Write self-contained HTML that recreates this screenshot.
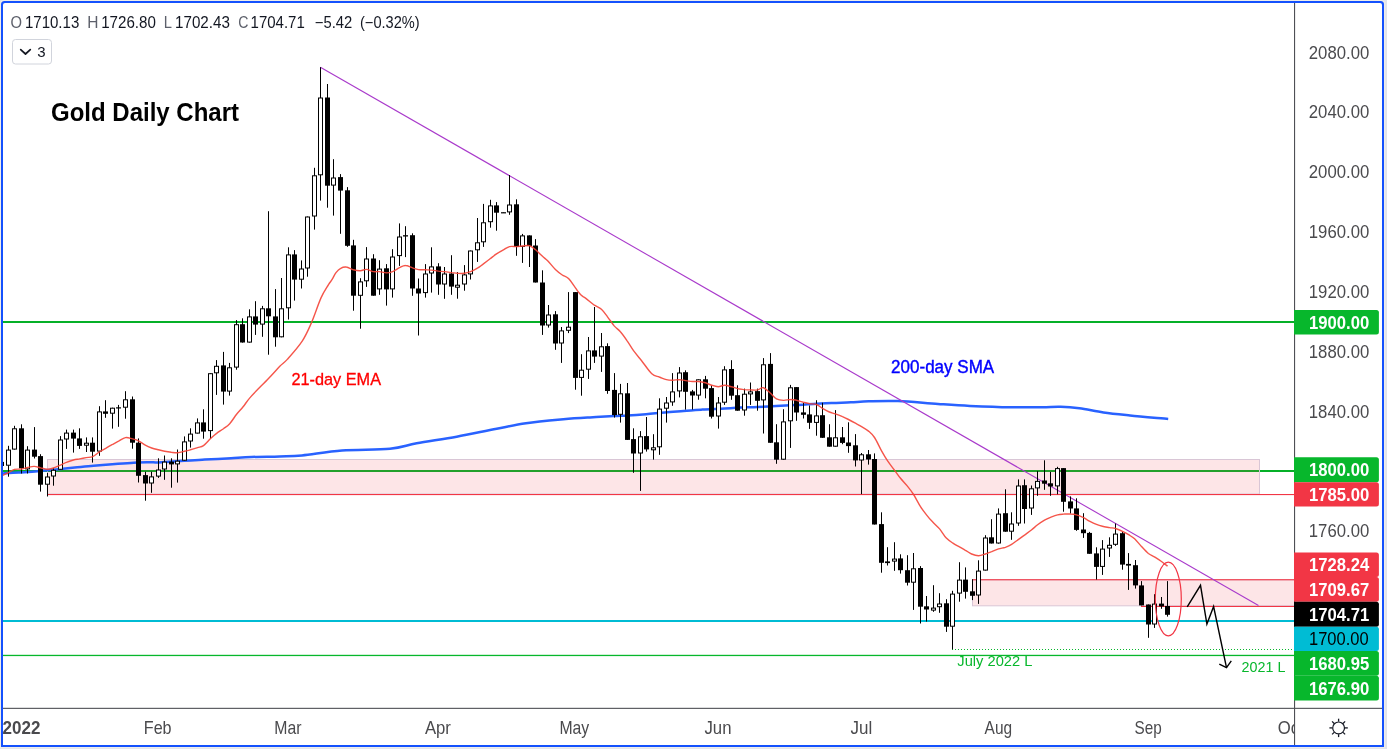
<!DOCTYPE html>
<html lang="en"><head><meta charset="utf-8"><title>Gold Daily Chart</title>
<style>
html,body{margin:0;padding:0;background:#e0e3eb;}
body{width:1387px;height:749px;overflow:hidden;font-family:"Liberation Sans", Arial, sans-serif;}
svg{display:block;font-family:"Liberation Sans", Arial, sans-serif;}
text{white-space:pre;}
</style></head><body>
<svg width="1387" height="749" viewBox="0 0 1387 749">
<rect x="0" y="0" width="1387" height="749" fill="#e0e3eb"/>
<path d="M0 748.2 V4 Q0 0 4 0 H1381.2 Q1385.2 0 1385.2 4 V748.2 Z" fill="#efede9"/>
<path d="M1 747 V4.5 Q1 1 4.5 1 H1380.5 Q1384 1 1384 4.5 V747 Z" fill="#1451fd"/>
<path d="M3 745 V5 Q3 3 5 3 H1380 Q1382 3 1382 5 V745 Z" fill="#ffffff"/>
<defs><clipPath id="pane"><rect x="3" y="3" width="1291" height="705"/></clipPath><clipPath id="taxis"><rect x="3" y="709" width="1291" height="36"/></clipPath></defs>
<g clip-path="url(#pane)">
<rect x="0" y="321" width="1295" height="2" fill="#05b028"/>
<rect x="0" y="470" width="1295" height="2" fill="#05b028"/>
<rect x="0" y="620" width="1295" height="2" fill="#00bcd4"/>
<rect x="0" y="654.8" width="1295" height="1.3" fill="#07b72c"/>
<line x1="952" y1="649.5" x2="1295" y2="649.5" stroke="#07b72c" stroke-width="1.1" stroke-dasharray="1 2"/>
<rect x="47.5" y="459.5" width="1212" height="34.5" fill="rgba(242,54,69,0.13)" stroke="#d9c6d6" stroke-width="1"/>
<rect x="47.5" y="494" width="1248" height="1.1" fill="#f23645"/>
<rect x="972.5" y="579.8" width="323" height="26" fill="rgba(242,54,69,0.13)" stroke="#d9c6d6" stroke-width="1"/>
<rect x="972.5" y="579.2" width="323" height="1.1" fill="#f23645"/>
<rect x="1141" y="605.9" width="155" height="1.1" fill="#f23645"/>
<path fill="none" stroke="#2962ff" stroke-width="2.5" stroke-linejoin="round" d="M-2.0 475.5 C-1.2 475.2 -0.8 474.0 2.6 473.5 C6.1 473.0 12.9 472.9 18.7 472.6 C24.5 472.2 31.2 471.8 37.4 471.3 C43.6 470.7 49.9 470.0 56.1 469.4 C62.3 468.8 68.6 468.1 74.8 467.5 C81.0 466.9 87.3 466.2 93.5 465.7 C99.7 465.1 106.0 464.6 112.2 464.2 C118.4 463.7 124.7 463.2 130.9 462.9 C137.1 462.5 145.1 462.4 149.6 462.3 C154.1 462.2 152.3 462.6 158.1 462.4 C163.8 462.1 176.4 461.2 184.2 460.7 C192.0 460.2 197.0 460.0 204.8 459.6 C212.6 459.2 223.2 458.7 231.0 458.3 C238.8 457.8 243.5 457.3 251.6 457.0 C259.7 456.6 271.2 456.7 279.6 456.4 C288.0 456.1 291.6 456.4 302.0 455.4 C312.4 454.4 327.3 451.6 342.0 450.5 C356.7 449.4 377.6 449.9 390.0 448.7 C402.4 447.5 405.6 445.3 416.7 443.3 C427.8 441.3 443.4 439.1 456.7 436.7 C470.0 434.3 485.1 430.9 496.7 428.7 C508.2 426.5 514.9 424.9 526.0 423.3 C537.1 421.7 552.7 420.3 563.4 419.3 C574.1 418.3 581.6 417.9 590.0 417.4 C598.4 416.9 607.8 416.4 614.0 416.1 C620.2 415.8 622.0 415.8 627.4 415.5 C632.8 415.2 639.9 414.7 646.1 414.2 C652.3 413.7 658.6 412.9 664.8 412.4 C671.0 411.8 677.3 411.4 683.5 410.9 C689.7 410.4 696.0 410.0 702.2 409.6 C708.4 409.2 714.7 409.0 720.9 408.7 C727.1 408.4 733.5 407.9 739.6 407.6 C745.7 407.3 751.3 407.3 757.4 407.0 C763.5 406.7 769.9 406.3 776.1 406.0 C782.3 405.7 788.6 405.4 794.8 405.1 C801.0 404.8 807.3 404.4 813.5 404.0 C819.7 403.6 826.0 403.3 832.2 403.0 C838.4 402.7 844.8 402.6 850.9 402.3 C857.0 402.0 860.9 401.5 868.7 401.3 C876.6 401.1 886.5 400.7 898.0 401.1 C909.5 401.6 926.0 403.2 938.0 404.0 C950.0 404.8 958.0 405.4 970.0 405.9 C982.0 406.4 998.0 407.0 1010.0 407.2 C1022.0 407.4 1033.5 407.3 1042.0 407.2 C1050.5 407.1 1054.5 406.6 1060.7 406.8 C1066.9 407.0 1072.3 407.4 1079.4 408.3 C1086.5 409.2 1095.0 411.3 1103.4 412.5 C1111.8 413.7 1119.2 414.4 1130.0 415.5 C1140.8 416.6 1161.8 418.3 1168.2 418.9"/>
<line x1="320.4" y1="67.2" x2="1258.5" y2="605.5" stroke="#a93acb" stroke-width="1.1"/>
<rect x="1" y="460.4" width="1" height="6.5" fill="#000"/>
<rect x="-1" y="461.9" width="5" height="4.1" fill="#000"/>
<rect x="8" y="445.8" width="1" height="30.9" fill="#000"/>
<rect x="6.5" y="450.1" width="4" height="15.1" fill="#fff" stroke="#000" stroke-width="1"/>
<rect x="14" y="425.8" width="1" height="23.8" fill="#000"/>
<rect x="12.5" y="428.8" width="4" height="20.3" fill="#fff" stroke="#000" stroke-width="1"/>
<rect x="21" y="424.3" width="1" height="49.2" fill="#000"/>
<rect x="19" y="428.3" width="5" height="40.0" fill="#000"/>
<rect x="27" y="446.2" width="1" height="27.3" fill="#000"/>
<rect x="25.5" y="450.1" width="4" height="18.8" fill="#fff" stroke="#000" stroke-width="1"/>
<rect x="34" y="427.1" width="1" height="31.4" fill="#000"/>
<rect x="32" y="449.6" width="5" height="7.1" fill="#000"/>
<rect x="40" y="454.2" width="1" height="37.4" fill="#000"/>
<rect x="38" y="456.1" width="5" height="28.6" fill="#000"/>
<rect x="47" y="472.9" width="1" height="23.6" fill="#000"/>
<rect x="45.5" y="477.0" width="4" height="7.2" fill="#fff" stroke="#000" stroke-width="1"/>
<rect x="53" y="467.9" width="1" height="17.8" fill="#000"/>
<rect x="51.5" y="470.3" width="4" height="5.7" fill="#fff" stroke="#000" stroke-width="1"/>
<rect x="60" y="436.1" width="1" height="33.7" fill="#000"/>
<rect x="58.5" y="440.0" width="4" height="29.3" fill="#fff" stroke="#000" stroke-width="1"/>
<rect x="66" y="429.6" width="1" height="19.3" fill="#000"/>
<rect x="64.5" y="433.1" width="4" height="5.9" fill="#fff" stroke="#000" stroke-width="1"/>
<rect x="73" y="429.6" width="1" height="23.0" fill="#000"/>
<rect x="71" y="432.6" width="5" height="6.0" fill="#000"/>
<rect x="79" y="428.3" width="1" height="20.6" fill="#000"/>
<rect x="77" y="438.4" width="5" height="7.5" fill="#000"/>
<rect x="86" y="437.4" width="1" height="14.6" fill="#000"/>
<rect x="84.5" y="443.2" width="4" height="2.0" fill="#fff" stroke="#000" stroke-width="1"/>
<rect x="92" y="437.4" width="1" height="25.2" fill="#000"/>
<rect x="90" y="442.7" width="5" height="9.0" fill="#000"/>
<rect x="99" y="406.2" width="1" height="49.6" fill="#000"/>
<rect x="97.5" y="411.9" width="4" height="39.2" fill="#fff" stroke="#000" stroke-width="1"/>
<rect x="105" y="400.2" width="1" height="17.6" fill="#000"/>
<rect x="103" y="411.4" width="5" height="2.4" fill="#000"/>
<rect x="112" y="407.7" width="1" height="20.9" fill="#000"/>
<rect x="110.5" y="408.2" width="4" height="5.0" fill="#fff" stroke="#000" stroke-width="1"/>
<rect x="118" y="404.9" width="1" height="21.9" fill="#000"/>
<rect x="116" y="407.3" width="5" height="1.2" fill="#000"/>
<rect x="125" y="391.2" width="1" height="27.5" fill="#000"/>
<rect x="123.5" y="399.8" width="4" height="7.4" fill="#fff" stroke="#000" stroke-width="1"/>
<rect x="132" y="396.5" width="1" height="52.2" fill="#000"/>
<rect x="130" y="399.3" width="5" height="43.4" fill="#000"/>
<rect x="138" y="438.4" width="1" height="44.1" fill="#000"/>
<rect x="136" y="442.7" width="5" height="33.1" fill="#000"/>
<rect x="145" y="471.7" width="1" height="29.0" fill="#000"/>
<rect x="143" y="475.1" width="5" height="8.4" fill="#000"/>
<rect x="151" y="471.7" width="1" height="21.1" fill="#000"/>
<rect x="149.5" y="476.9" width="4" height="6.1" fill="#fff" stroke="#000" stroke-width="1"/>
<rect x="158" y="458.3" width="1" height="19.6" fill="#000"/>
<rect x="156.5" y="470.0" width="4" height="6.1" fill="#fff" stroke="#000" stroke-width="1"/>
<rect x="164" y="455.5" width="1" height="24.3" fill="#000"/>
<rect x="162.5" y="462.1" width="4" height="6.9" fill="#fff" stroke="#000" stroke-width="1"/>
<rect x="171" y="458.3" width="1" height="29.4" fill="#000"/>
<rect x="169" y="461.6" width="5" height="2.8" fill="#000"/>
<rect x="177" y="449.5" width="1" height="33.1" fill="#000"/>
<rect x="175.5" y="461.2" width="4" height="2.7" fill="#fff" stroke="#000" stroke-width="1"/>
<rect x="184" y="436.4" width="1" height="24.3" fill="#000"/>
<rect x="182.5" y="441.9" width="4" height="18.3" fill="#fff" stroke="#000" stroke-width="1"/>
<rect x="190" y="428.3" width="1" height="19.3" fill="#000"/>
<rect x="188.5" y="434.1" width="4" height="6.9" fill="#fff" stroke="#000" stroke-width="1"/>
<rect x="197" y="418.4" width="1" height="15.1" fill="#000"/>
<rect x="195.5" y="422.9" width="4" height="10.2" fill="#fff" stroke="#000" stroke-width="1"/>
<rect x="203" y="409.3" width="1" height="29.4" fill="#000"/>
<rect x="201" y="422.4" width="5" height="9.2" fill="#000"/>
<rect x="210" y="373.2" width="1" height="65.8" fill="#000"/>
<rect x="208.5" y="373.7" width="4" height="56.9" fill="#fff" stroke="#000" stroke-width="1"/>
<rect x="216" y="360.1" width="1" height="34.8" fill="#000"/>
<rect x="214.5" y="366.3" width="4" height="6.5" fill="#fff" stroke="#000" stroke-width="1"/>
<rect x="223" y="351.9" width="1" height="52.7" fill="#000"/>
<rect x="221" y="365.4" width="5" height="26.2" fill="#000"/>
<rect x="229" y="362.9" width="1" height="32.7" fill="#000"/>
<rect x="227.5" y="367.8" width="4" height="23.3" fill="#fff" stroke="#000" stroke-width="1"/>
<rect x="236" y="320.1" width="1" height="49.6" fill="#000"/>
<rect x="234.5" y="324.7" width="4" height="42.4" fill="#fff" stroke="#000" stroke-width="1"/>
<rect x="242" y="318.3" width="1" height="24.3" fill="#000"/>
<rect x="240" y="324.2" width="5" height="18.3" fill="#000"/>
<rect x="249" y="309.3" width="1" height="33.3" fill="#000"/>
<rect x="247.5" y="316.9" width="4" height="25.2" fill="#fff" stroke="#000" stroke-width="1"/>
<rect x="255" y="301.2" width="1" height="33.7" fill="#000"/>
<rect x="253" y="316.4" width="5" height="8.2" fill="#000"/>
<rect x="262" y="305.9" width="1" height="30.9" fill="#000"/>
<rect x="260.5" y="308.8" width="4" height="15.3" fill="#fff" stroke="#000" stroke-width="1"/>
<rect x="268" y="211.2" width="1" height="143.5" fill="#000"/>
<rect x="266" y="308.3" width="5" height="8.0" fill="#000"/>
<rect x="275" y="289.1" width="1" height="57.6" fill="#000"/>
<rect x="273" y="316.4" width="5" height="20.9" fill="#000"/>
<rect x="281" y="278.0" width="1" height="59.3" fill="#000"/>
<rect x="279.5" y="308.8" width="4" height="28.0" fill="#fff" stroke="#000" stroke-width="1"/>
<rect x="288" y="247.3" width="1" height="72.2" fill="#000"/>
<rect x="286.5" y="254.9" width="4" height="52.9" fill="#fff" stroke="#000" stroke-width="1"/>
<rect x="294" y="250.1" width="1" height="50.5" fill="#000"/>
<rect x="292" y="254.4" width="5" height="25.2" fill="#000"/>
<rect x="301" y="260.4" width="1" height="28.1" fill="#000"/>
<rect x="299.5" y="269.0" width="4" height="10.2" fill="#fff" stroke="#000" stroke-width="1"/>
<rect x="307" y="216.5" width="1" height="60.2" fill="#000"/>
<rect x="305.5" y="217.0" width="4" height="51.0" fill="#fff" stroke="#000" stroke-width="1"/>
<rect x="314" y="167.8" width="1" height="61.8" fill="#000"/>
<rect x="312.5" y="175.8" width="4" height="40.2" fill="#fff" stroke="#000" stroke-width="1"/>
<rect x="320" y="67.2" width="1" height="133.4" fill="#000"/>
<rect x="318.5" y="98.0" width="4" height="76.8" fill="#fff" stroke="#000" stroke-width="1"/>
<rect x="327" y="84.0" width="1" height="123.7" fill="#000"/>
<rect x="325" y="97.5" width="5" height="88.2" fill="#000"/>
<rect x="333" y="159.2" width="1" height="56.4" fill="#000"/>
<rect x="331.5" y="178.0" width="4" height="7.1" fill="#fff" stroke="#000" stroke-width="1"/>
<rect x="340" y="174.1" width="1" height="59.7" fill="#000"/>
<rect x="338" y="177.1" width="5" height="13.5" fill="#000"/>
<rect x="347" y="187.1" width="1" height="59.7" fill="#000"/>
<rect x="345" y="190.3" width="5" height="55.5" fill="#000"/>
<rect x="353" y="239.8" width="1" height="70.9" fill="#000"/>
<rect x="351" y="245.4" width="5" height="50.3" fill="#000"/>
<rect x="360" y="278.2" width="1" height="50.5" fill="#000"/>
<rect x="358.5" y="281.9" width="4" height="13.4" fill="#fff" stroke="#000" stroke-width="1"/>
<rect x="366" y="247.1" width="1" height="39.8" fill="#000"/>
<rect x="364.5" y="259.0" width="4" height="21.8" fill="#fff" stroke="#000" stroke-width="1"/>
<rect x="373" y="254.2" width="1" height="41.5" fill="#000"/>
<rect x="371" y="258.5" width="5" height="37.2" fill="#000"/>
<rect x="379" y="260.2" width="1" height="34.6" fill="#000"/>
<rect x="377.5" y="269.1" width="4" height="19.8" fill="#fff" stroke="#000" stroke-width="1"/>
<rect x="386" y="264.1" width="1" height="41.5" fill="#000"/>
<rect x="384" y="268.3" width="5" height="21.1" fill="#000"/>
<rect x="392" y="249.2" width="1" height="48.4" fill="#000"/>
<rect x="390.5" y="257.0" width="4" height="31.9" fill="#fff" stroke="#000" stroke-width="1"/>
<rect x="399" y="223.4" width="1" height="42.5" fill="#000"/>
<rect x="397.5" y="237.0" width="4" height="18.6" fill="#fff" stroke="#000" stroke-width="1"/>
<rect x="405" y="226.2" width="1" height="30.9" fill="#000"/>
<rect x="403" y="235.2" width="5" height="1.3" fill="#000"/>
<rect x="412" y="233.3" width="1" height="62.5" fill="#000"/>
<rect x="410" y="235.2" width="5" height="53.3" fill="#000"/>
<rect x="418" y="278.5" width="1" height="57.0" fill="#000"/>
<rect x="416" y="288.5" width="5" height="5.0" fill="#000"/>
<rect x="425" y="264.1" width="1" height="33.5" fill="#000"/>
<rect x="423.5" y="274.0" width="4" height="18.6" fill="#fff" stroke="#000" stroke-width="1"/>
<rect x="431" y="247.3" width="1" height="45.3" fill="#000"/>
<rect x="429.5" y="266.9" width="4" height="6.1" fill="#fff" stroke="#000" stroke-width="1"/>
<rect x="438" y="263.2" width="1" height="31.6" fill="#000"/>
<rect x="436" y="266.4" width="5" height="18.1" fill="#000"/>
<rect x="444" y="267.0" width="1" height="31.8" fill="#000"/>
<rect x="442.5" y="274.0" width="4" height="10.0" fill="#fff" stroke="#000" stroke-width="1"/>
<rect x="451" y="255.2" width="1" height="39.6" fill="#000"/>
<rect x="449" y="273.5" width="5" height="13.1" fill="#000"/>
<rect x="457" y="272.0" width="1" height="26.7" fill="#000"/>
<rect x="455.5" y="285.2" width="4" height="2.0" fill="#fff" stroke="#000" stroke-width="1"/>
<rect x="464" y="265.1" width="1" height="25.6" fill="#000"/>
<rect x="462.5" y="274.9" width="4" height="9.1" fill="#fff" stroke="#000" stroke-width="1"/>
<rect x="470" y="250.5" width="1" height="29.0" fill="#000"/>
<rect x="468.5" y="251.0" width="4" height="22.9" fill="#fff" stroke="#000" stroke-width="1"/>
<rect x="477" y="218.0" width="1" height="43.9" fill="#000"/>
<rect x="475.5" y="242.8" width="4" height="7.0" fill="#fff" stroke="#000" stroke-width="1"/>
<rect x="483" y="203.9" width="1" height="43.0" fill="#000"/>
<rect x="481.5" y="222.8" width="4" height="19.0" fill="#fff" stroke="#000" stroke-width="1"/>
<rect x="490" y="199.8" width="1" height="27.9" fill="#000"/>
<rect x="488.5" y="205.9" width="4" height="15.8" fill="#fff" stroke="#000" stroke-width="1"/>
<rect x="496" y="202.1" width="1" height="28.6" fill="#000"/>
<rect x="494" y="205.4" width="5" height="7.3" fill="#000"/>
<rect x="503" y="212.2" width="1" height="0.4" fill="#000"/>
<rect x="501" y="212.2" width="5" height="1.2" fill="#000"/>
<rect x="509" y="175.0" width="1" height="39.8" fill="#000"/>
<rect x="507.5" y="205.0" width="4" height="6.9" fill="#fff" stroke="#000" stroke-width="1"/>
<rect x="516" y="199.3" width="1" height="56.5" fill="#000"/>
<rect x="514" y="204.3" width="5" height="42.6" fill="#000"/>
<rect x="522" y="233.9" width="1" height="29.0" fill="#000"/>
<rect x="520.5" y="235.9" width="4" height="10.6" fill="#fff" stroke="#000" stroke-width="1"/>
<rect x="529" y="235.4" width="1" height="31.6" fill="#000"/>
<rect x="527" y="235.4" width="5" height="10.7" fill="#000"/>
<rect x="535" y="239.1" width="1" height="43.4" fill="#000"/>
<rect x="533" y="245.5" width="5" height="37.0" fill="#000"/>
<rect x="542" y="270.3" width="1" height="64.6" fill="#000"/>
<rect x="540" y="282.5" width="5" height="43.0" fill="#000"/>
<rect x="548" y="305.0" width="1" height="22.6" fill="#000"/>
<rect x="546.5" y="315.0" width="4" height="10.0" fill="#fff" stroke="#000" stroke-width="1"/>
<rect x="555" y="311.1" width="1" height="38.7" fill="#000"/>
<rect x="553" y="314.3" width="5" height="29.2" fill="#000"/>
<rect x="561" y="327.0" width="1" height="35.9" fill="#000"/>
<rect x="559.5" y="330.9" width="4" height="12.1" fill="#fff" stroke="#000" stroke-width="1"/>
<rect x="568" y="292.1" width="1" height="41.0" fill="#000"/>
<rect x="566.5" y="327.2" width="4" height="3.1" fill="#fff" stroke="#000" stroke-width="1"/>
<rect x="575" y="292.1" width="1" height="97.6" fill="#000"/>
<rect x="573" y="292.1" width="5" height="85.8" fill="#000"/>
<rect x="581" y="354.2" width="1" height="41.5" fill="#000"/>
<rect x="579.5" y="370.2" width="4" height="7.2" fill="#fff" stroke="#000" stroke-width="1"/>
<rect x="588" y="337.0" width="1" height="41.9" fill="#000"/>
<rect x="586.5" y="350.9" width="4" height="18.3" fill="#fff" stroke="#000" stroke-width="1"/>
<rect x="594" y="307.0" width="1" height="55.9" fill="#000"/>
<rect x="592" y="350.4" width="5" height="6.2" fill="#000"/>
<rect x="601" y="333.0" width="1" height="38.9" fill="#000"/>
<rect x="599.5" y="346.8" width="4" height="9.3" fill="#fff" stroke="#000" stroke-width="1"/>
<rect x="607" y="343.3" width="1" height="50.5" fill="#000"/>
<rect x="605" y="346.1" width="5" height="44.9" fill="#000"/>
<rect x="614" y="373.1" width="1" height="44.5" fill="#000"/>
<rect x="612" y="389.9" width="5" height="25.2" fill="#000"/>
<rect x="620" y="383.9" width="1" height="38.7" fill="#000"/>
<rect x="618.5" y="393.8" width="4" height="20.5" fill="#fff" stroke="#000" stroke-width="1"/>
<rect x="627" y="383.0" width="1" height="56.9" fill="#000"/>
<rect x="625" y="393.3" width="5" height="46.6" fill="#000"/>
<rect x="633" y="428.3" width="1" height="44.5" fill="#000"/>
<rect x="631" y="439.1" width="5" height="14.4" fill="#000"/>
<rect x="640" y="431.1" width="1" height="59.8" fill="#000"/>
<rect x="638.5" y="436.8" width="4" height="16.2" fill="#fff" stroke="#000" stroke-width="1"/>
<rect x="646" y="417.0" width="1" height="34.6" fill="#000"/>
<rect x="644" y="436.1" width="5" height="13.3" fill="#000"/>
<rect x="653" y="434.2" width="1" height="25.4" fill="#000"/>
<rect x="651.5" y="447.8" width="4" height="2.0" fill="#fff" stroke="#000" stroke-width="1"/>
<rect x="659" y="398.3" width="1" height="56.5" fill="#000"/>
<rect x="657.5" y="409.1" width="4" height="37.7" fill="#fff" stroke="#000" stroke-width="1"/>
<rect x="666" y="397.0" width="1" height="25.6" fill="#000"/>
<rect x="664.5" y="403.0" width="4" height="5.2" fill="#fff" stroke="#000" stroke-width="1"/>
<rect x="672" y="373.1" width="1" height="32.7" fill="#000"/>
<rect x="670.5" y="391.9" width="4" height="10.0" fill="#fff" stroke="#000" stroke-width="1"/>
<rect x="679" y="367.1" width="1" height="30.3" fill="#000"/>
<rect x="677.5" y="373.0" width="4" height="17.9" fill="#fff" stroke="#000" stroke-width="1"/>
<rect x="685" y="370.3" width="1" height="39.3" fill="#000"/>
<rect x="683" y="372.2" width="5" height="19.6" fill="#000"/>
<rect x="692" y="389.9" width="1" height="19.6" fill="#000"/>
<rect x="690" y="391.4" width="5" height="4.1" fill="#000"/>
<rect x="698" y="379.3" width="1" height="20.4" fill="#000"/>
<rect x="696.5" y="379.8" width="4" height="15.3" fill="#fff" stroke="#000" stroke-width="1"/>
<rect x="705" y="375.9" width="1" height="22.4" fill="#000"/>
<rect x="703" y="379.3" width="5" height="9.4" fill="#000"/>
<rect x="711" y="385.2" width="1" height="33.3" fill="#000"/>
<rect x="709" y="388.1" width="5" height="28.6" fill="#000"/>
<rect x="718" y="397.0" width="1" height="31.6" fill="#000"/>
<rect x="716.5" y="403.0" width="4" height="13.0" fill="#fff" stroke="#000" stroke-width="1"/>
<rect x="724" y="366.2" width="1" height="38.7" fill="#000"/>
<rect x="722.5" y="369.9" width="4" height="32.3" fill="#fff" stroke="#000" stroke-width="1"/>
<rect x="731" y="360.2" width="1" height="39.6" fill="#000"/>
<rect x="729" y="369.0" width="5" height="26.7" fill="#000"/>
<rect x="737" y="385.3" width="1" height="25.4" fill="#000"/>
<rect x="735" y="395.2" width="5" height="15.5" fill="#000"/>
<rect x="744" y="388.6" width="1" height="27.1" fill="#000"/>
<rect x="742.5" y="394.2" width="4" height="15.8" fill="#fff" stroke="#000" stroke-width="1"/>
<rect x="750" y="382.5" width="1" height="22.4" fill="#000"/>
<rect x="748.5" y="391.9" width="4" height="2.0" fill="#fff" stroke="#000" stroke-width="1"/>
<rect x="757" y="388.6" width="1" height="22.1" fill="#000"/>
<rect x="755" y="391.1" width="5" height="9.7" fill="#000"/>
<rect x="763" y="358.1" width="1" height="75.4" fill="#000"/>
<rect x="761.5" y="364.8" width="4" height="35.1" fill="#fff" stroke="#000" stroke-width="1"/>
<rect x="770" y="353.1" width="1" height="89.8" fill="#000"/>
<rect x="768" y="363.9" width="5" height="78.9" fill="#000"/>
<rect x="776" y="424.2" width="1" height="39.6" fill="#000"/>
<rect x="774" y="442.3" width="5" height="17.4" fill="#000"/>
<rect x="783" y="409.2" width="1" height="50.5" fill="#000"/>
<rect x="781.5" y="421.9" width="4" height="37.3" fill="#fff" stroke="#000" stroke-width="1"/>
<rect x="790" y="384.9" width="1" height="63.0" fill="#000"/>
<rect x="788.5" y="387.8" width="4" height="33.0" fill="#fff" stroke="#000" stroke-width="1"/>
<rect x="796" y="387.1" width="1" height="33.7" fill="#000"/>
<rect x="794" y="387.1" width="5" height="25.4" fill="#000"/>
<rect x="803" y="403.0" width="1" height="15.5" fill="#000"/>
<rect x="801" y="412.4" width="5" height="2.4" fill="#000"/>
<rect x="809" y="405.5" width="1" height="23.4" fill="#000"/>
<rect x="807" y="414.4" width="5" height="8.4" fill="#000"/>
<rect x="816" y="400.2" width="1" height="35.5" fill="#000"/>
<rect x="814.5" y="415.9" width="4" height="6.5" fill="#fff" stroke="#000" stroke-width="1"/>
<rect x="822" y="402.7" width="1" height="35.2" fill="#000"/>
<rect x="820" y="415.2" width="5" height="22.6" fill="#000"/>
<rect x="829" y="424.2" width="1" height="22.4" fill="#000"/>
<rect x="827" y="437.3" width="5" height="9.4" fill="#000"/>
<rect x="835" y="410.1" width="1" height="36.5" fill="#000"/>
<rect x="833.5" y="437.8" width="4" height="8.4" fill="#fff" stroke="#000" stroke-width="1"/>
<rect x="842" y="427.0" width="1" height="17.2" fill="#000"/>
<rect x="840" y="437.3" width="5" height="5.6" fill="#000"/>
<rect x="848" y="422.3" width="1" height="30.5" fill="#000"/>
<rect x="846" y="442.5" width="5" height="3.6" fill="#000"/>
<rect x="855" y="434.1" width="1" height="32.4" fill="#000"/>
<rect x="853" y="445.3" width="5" height="15.1" fill="#000"/>
<rect x="861" y="453.0" width="1" height="41.1" fill="#000"/>
<rect x="859.5" y="454.8" width="4" height="5.2" fill="#fff" stroke="#000" stroke-width="1"/>
<rect x="868" y="450.0" width="1" height="14.6" fill="#000"/>
<rect x="866" y="454.3" width="5" height="5.2" fill="#000"/>
<rect x="874" y="453.4" width="1" height="71.1" fill="#000"/>
<rect x="872" y="459.0" width="5" height="65.5" fill="#000"/>
<rect x="881" y="512.3" width="1" height="60.4" fill="#000"/>
<rect x="879" y="524.1" width="5" height="38.7" fill="#000"/>
<rect x="887" y="547.2" width="1" height="18.3" fill="#000"/>
<rect x="885" y="561.4" width="5" height="1.7" fill="#000"/>
<rect x="894" y="542.2" width="1" height="28.6" fill="#000"/>
<rect x="892.5" y="559.1" width="4" height="2.0" fill="#fff" stroke="#000" stroke-width="1"/>
<rect x="900" y="554.3" width="1" height="19.3" fill="#000"/>
<rect x="898" y="558.4" width="5" height="11.8" fill="#000"/>
<rect x="907" y="555.2" width="1" height="30.3" fill="#000"/>
<rect x="905" y="570.2" width="5" height="12.5" fill="#000"/>
<rect x="913" y="553.0" width="1" height="56.9" fill="#000"/>
<rect x="911.5" y="568.8" width="4" height="13.4" fill="#fff" stroke="#000" stroke-width="1"/>
<rect x="920" y="566.1" width="1" height="57.4" fill="#000"/>
<rect x="918" y="568.0" width="5" height="38.7" fill="#000"/>
<rect x="926" y="596.0" width="1" height="25.6" fill="#000"/>
<rect x="924" y="606.3" width="5" height="3.2" fill="#000"/>
<rect x="933" y="585.2" width="1" height="26.6" fill="#000"/>
<rect x="931.5" y="608.1" width="4" height="2.0" fill="#fff" stroke="#000" stroke-width="1"/>
<rect x="939" y="593.2" width="1" height="19.6" fill="#000"/>
<rect x="937.5" y="604.0" width="4" height="2.7" fill="#fff" stroke="#000" stroke-width="1"/>
<rect x="946" y="599.2" width="1" height="32.7" fill="#000"/>
<rect x="944" y="603.3" width="5" height="23.4" fill="#000"/>
<rect x="952" y="590.8" width="1" height="58.5" fill="#000"/>
<rect x="950.5" y="594.1" width="4" height="32.1" fill="#fff" stroke="#000" stroke-width="1"/>
<rect x="959" y="562.2" width="1" height="39.5" fill="#000"/>
<rect x="957.5" y="580.1" width="4" height="13.0" fill="#fff" stroke="#000" stroke-width="1"/>
<rect x="965" y="567.4" width="1" height="31.2" fill="#000"/>
<rect x="963" y="579.6" width="5" height="12.2" fill="#000"/>
<rect x="972" y="579.2" width="1" height="20.9" fill="#000"/>
<rect x="970" y="591.3" width="5" height="4.5" fill="#000"/>
<rect x="978" y="560.3" width="1" height="43.6" fill="#000"/>
<rect x="976.5" y="571.1" width="4" height="23.9" fill="#fff" stroke="#000" stroke-width="1"/>
<rect x="985" y="535.2" width="1" height="35.3" fill="#000"/>
<rect x="983.5" y="538.0" width="4" height="32.1" fill="#fff" stroke="#000" stroke-width="1"/>
<rect x="991" y="519.2" width="1" height="24.3" fill="#000"/>
<rect x="989" y="537.3" width="5" height="6.2" fill="#000"/>
<rect x="998" y="508.4" width="1" height="35.2" fill="#000"/>
<rect x="996.5" y="514.1" width="4" height="28.9" fill="#fff" stroke="#000" stroke-width="1"/>
<rect x="1005" y="489.3" width="1" height="42.5" fill="#000"/>
<rect x="1003" y="513.2" width="5" height="18.5" fill="#000"/>
<rect x="1011" y="512.3" width="1" height="27.5" fill="#000"/>
<rect x="1009.5" y="524.0" width="4" height="7.2" fill="#fff" stroke="#000" stroke-width="1"/>
<rect x="1018" y="479.4" width="1" height="46.4" fill="#000"/>
<rect x="1016.5" y="486.0" width="4" height="37.0" fill="#fff" stroke="#000" stroke-width="1"/>
<rect x="1024" y="479.4" width="1" height="44.1" fill="#000"/>
<rect x="1022" y="485.2" width="5" height="23.8" fill="#000"/>
<rect x="1031" y="485.5" width="1" height="29.4" fill="#000"/>
<rect x="1029.5" y="488.8" width="4" height="19.2" fill="#fff" stroke="#000" stroke-width="1"/>
<rect x="1037" y="471.1" width="1" height="24.7" fill="#000"/>
<rect x="1035.5" y="481.4" width="4" height="6.5" fill="#fff" stroke="#000" stroke-width="1"/>
<rect x="1044" y="460.3" width="1" height="29.5" fill="#000"/>
<rect x="1042" y="480.5" width="5" height="3.2" fill="#000"/>
<rect x="1050" y="471.9" width="1" height="23.9" fill="#000"/>
<rect x="1048" y="483.3" width="5" height="3.2" fill="#000"/>
<rect x="1057" y="466.8" width="1" height="27.5" fill="#000"/>
<rect x="1055.5" y="468.6" width="4" height="17.3" fill="#fff" stroke="#000" stroke-width="1"/>
<rect x="1063" y="468.1" width="1" height="43.6" fill="#000"/>
<rect x="1061" y="468.1" width="5" height="33.7" fill="#000"/>
<rect x="1070" y="496.4" width="1" height="17.2" fill="#000"/>
<rect x="1068" y="501.4" width="5" height="7.1" fill="#000"/>
<rect x="1076" y="498.3" width="1" height="32.5" fill="#000"/>
<rect x="1074" y="508.4" width="5" height="21.5" fill="#000"/>
<rect x="1083" y="513.2" width="1" height="24.7" fill="#000"/>
<rect x="1081" y="529.5" width="5" height="3.7" fill="#000"/>
<rect x="1089" y="531.9" width="1" height="21.9" fill="#000"/>
<rect x="1087" y="532.9" width="5" height="20.9" fill="#000"/>
<rect x="1096" y="547.3" width="1" height="32.2" fill="#000"/>
<rect x="1094" y="553.4" width="5" height="13.5" fill="#000"/>
<rect x="1102" y="540.1" width="1" height="34.8" fill="#000"/>
<rect x="1100.5" y="549.1" width="4" height="17.3" fill="#fff" stroke="#000" stroke-width="1"/>
<rect x="1109" y="537.3" width="1" height="19.6" fill="#000"/>
<rect x="1107.5" y="545.3" width="4" height="2.7" fill="#fff" stroke="#000" stroke-width="1"/>
<rect x="1115" y="523.5" width="1" height="22.4" fill="#000"/>
<rect x="1113.5" y="534.1" width="4" height="10.2" fill="#fff" stroke="#000" stroke-width="1"/>
<rect x="1122" y="531.7" width="1" height="38.0" fill="#000"/>
<rect x="1120" y="533.2" width="5" height="31.4" fill="#000"/>
<rect x="1128" y="553.1" width="1" height="36.8" fill="#000"/>
<rect x="1126" y="563.9" width="5" height="1.7" fill="#000"/>
<rect x="1135" y="560.0" width="1" height="28.6" fill="#000"/>
<rect x="1133" y="565.2" width="5" height="20.2" fill="#000"/>
<rect x="1141" y="581.1" width="1" height="24.3" fill="#000"/>
<rect x="1139" y="585.4" width="5" height="20.0" fill="#000"/>
<rect x="1148" y="604.5" width="1" height="33.3" fill="#000"/>
<rect x="1146" y="604.5" width="5" height="20.0" fill="#000"/>
<rect x="1154" y="594.2" width="1" height="33.7" fill="#000"/>
<rect x="1152.5" y="604.1" width="4" height="19.9" fill="#fff" stroke="#000" stroke-width="1"/>
<rect x="1161" y="597.0" width="1" height="11.8" fill="#000"/>
<rect x="1159" y="603.6" width="5" height="2.8" fill="#000"/>
<rect x="1167" y="581.1" width="1" height="35.5" fill="#000"/>
<rect x="1165" y="606.0" width="5" height="8.8" fill="#000"/>
<path fill="none" stroke="#f44336" stroke-opacity="0.9" stroke-width="1.4" stroke-linejoin="round" d="M-3.0 476.5 C-2.1 476.3 0.7 476.0 2.6 475.4 C4.5 474.7 6.5 473.6 8.4 472.6 C10.4 471.6 12.2 470.0 14.4 469.4 C16.6 468.8 19.3 469.3 21.5 469.0 C23.7 468.7 25.4 468.0 27.5 467.5 C29.6 467.1 32.0 466.3 34.2 466.4 C36.4 466.5 38.4 467.4 40.6 467.9 C42.8 468.4 45.3 469.2 47.5 469.2 C49.7 469.2 51.5 468.6 53.7 467.9 C55.8 467.2 58.3 466.0 60.4 465.1 C62.5 464.2 64.2 463.1 66.4 462.3 C68.6 461.4 71.3 460.6 73.5 460.0 C75.7 459.5 77.6 459.3 79.7 458.9 C81.8 458.5 84.1 458.0 86.2 457.6 C88.4 457.2 90.4 457.6 92.6 456.7 C94.8 455.7 97.1 453.4 99.3 452.0 C101.5 450.6 103.5 449.5 105.7 448.3 C107.8 447.0 110.2 445.7 112.4 444.5 C114.6 443.3 116.4 442.3 118.6 441.2 C120.8 440.0 123.2 438.0 125.5 437.6 C127.8 437.2 130.4 438.4 132.6 438.9 C134.8 439.5 136.3 439.8 138.4 440.9 C140.5 441.9 143.1 444.0 145.3 445.2 C147.5 446.4 149.5 447.2 151.7 448.0 C153.9 448.8 156.3 449.3 158.4 449.8 C160.6 450.4 162.4 450.8 164.6 451.2 C166.7 451.6 169.1 452.0 171.3 452.3 C173.5 452.5 175.5 452.8 177.7 452.7 C179.9 452.5 182.3 451.8 184.4 451.3 C186.5 450.9 188.2 450.5 190.4 449.8 C192.6 449.2 195.3 448.3 197.5 447.6 C199.7 446.9 201.3 447.2 203.5 445.7 C205.7 444.2 208.4 440.7 210.6 438.6 C212.8 436.6 214.4 435.0 216.6 433.4 C218.7 431.7 221.3 430.3 223.5 428.7 C225.7 427.1 227.5 426.1 229.7 423.7 C231.9 421.3 234.4 417.1 236.6 414.3 C238.8 411.5 240.8 409.7 243.1 406.8 C245.5 403.9 246.5 401.6 250.7 396.9 C254.9 392.1 263.7 383.6 268.5 378.5 C273.4 373.4 276.7 369.5 279.8 366.3 C282.9 363.1 283.5 363.6 287.3 359.4 C291.0 355.2 298.2 347.2 302.2 341.1 C306.3 334.9 308.4 329.6 311.6 322.4 C314.7 315.2 318.2 304.2 321.0 297.9 C323.8 291.7 326.7 287.8 328.5 284.7 C330.4 281.6 330.9 281.4 332.1 279.4 C333.4 277.3 334.6 274.4 336.0 272.6 C337.5 270.7 339.0 269.2 340.7 268.3 C342.4 267.3 344.2 266.7 346.3 267.0 C348.4 267.2 351.1 269.1 353.4 269.8 C355.8 270.4 358.3 270.8 360.5 270.7 C362.7 270.6 364.4 269.2 366.5 269.4 C368.7 269.6 371.3 271.3 373.4 271.6 C375.6 272.0 377.2 271.4 379.4 271.6 C381.6 271.9 384.3 272.9 386.5 272.9 C388.6 272.9 390.4 272.5 392.6 271.6 C394.7 270.8 397.3 268.7 399.5 267.7 C401.6 266.7 403.3 265.4 405.5 265.5 C407.6 265.5 410.4 267.2 412.6 267.9 C414.7 268.6 416.4 269.3 418.5 269.6 C420.7 269.9 423.3 269.7 425.5 269.8 C427.6 269.9 429.3 269.9 431.5 270.1 C433.6 270.4 436.4 270.8 438.6 271.1 C440.7 271.3 442.2 271.4 444.4 271.6 C446.5 271.9 449.3 272.3 451.5 272.6 C453.6 272.8 455.3 273.2 457.4 273.3 C459.6 273.4 462.2 273.6 464.4 273.3 C466.5 273.0 468.3 272.5 470.5 271.6 C472.7 270.8 475.3 269.5 477.4 268.2 C479.6 266.9 481.3 265.4 483.4 263.9 C485.5 262.3 487.9 260.5 490.1 258.8 C492.2 257.2 494.2 255.4 496.5 253.9 C498.7 252.4 501.2 251.0 503.4 249.8 C505.6 248.6 507.4 247.1 509.6 246.6 C511.7 246.1 514.3 246.7 516.5 246.6 C518.6 246.5 520.3 246.2 522.5 246.0 C524.6 245.9 527.4 245.0 529.6 245.7 C531.8 246.3 533.4 248.0 535.6 249.8 C537.7 251.5 540.4 254.4 542.5 256.3 C544.5 258.2 545.7 258.8 547.9 261.0 C550.1 263.2 553.0 267.1 555.4 269.4 C557.8 271.7 560.1 273.5 562.3 275.0 C564.5 276.5 566.1 276.1 568.5 278.6 C571.0 281.1 574.6 287.0 576.8 289.8 C578.9 292.6 580.1 294.2 581.6 295.6 C583.0 297.0 583.3 296.5 585.5 298.1 C587.6 299.6 591.8 303.3 594.4 305.2 C597.1 307.0 599.2 307.3 601.4 309.3 C603.5 311.2 605.3 313.9 607.5 316.8 C609.7 319.6 612.3 323.6 614.4 326.1 C616.6 328.6 618.3 329.2 620.4 331.7 C622.6 334.2 625.1 337.8 627.3 341.1 C629.6 344.3 631.7 348.1 634.1 351.4 C636.5 354.6 638.6 357.0 641.6 360.7 C644.5 364.4 648.9 371.1 651.8 373.8 C654.8 376.5 656.9 376.0 659.3 377.0 C661.8 377.9 664.2 379.1 666.4 379.6 C668.6 380.2 670.3 380.2 672.5 380.2 C674.6 380.2 677.2 379.6 679.4 379.6 C681.6 379.7 683.4 380.3 685.6 380.6 C687.7 380.9 690.3 381.4 692.5 381.5 C694.6 381.7 696.3 381.3 698.5 381.5 C700.6 381.7 703.2 382.2 705.4 382.8 C707.6 383.4 709.4 384.6 711.6 385.2 C713.7 385.9 716.1 386.7 718.3 386.7 C720.4 386.7 722.3 385.3 724.5 385.3 C726.7 385.3 729.4 386.2 731.6 386.8 C733.8 387.3 735.4 388.2 737.6 388.6 C739.7 389.1 742.3 389.3 744.5 389.6 C746.7 389.8 748.3 389.9 750.5 389.9 C752.6 390.0 755.3 390.3 757.4 389.9 C759.6 389.6 761.2 387.1 763.4 387.7 C765.6 388.3 768.3 391.4 770.5 393.3 C772.7 395.2 774.3 397.7 776.5 398.9 C778.7 400.1 781.2 400.3 783.6 400.4 C785.9 400.5 788.4 399.5 790.5 399.5 C792.7 399.4 794.3 399.8 796.5 400.2 C798.6 400.7 801.2 401.7 803.4 402.3 C805.6 402.8 807.4 403.2 809.6 403.6 C811.8 404.0 814.4 403.7 816.5 404.5 C818.7 405.3 820.3 407.0 822.5 408.3 C824.6 409.5 827.3 411.1 829.4 412.0 C831.6 412.9 833.2 413.1 835.4 413.9 C837.6 414.7 840.3 415.7 842.5 416.7 C844.7 417.6 846.3 418.4 848.5 419.5 C850.6 420.6 853.2 422.0 855.4 423.2 C857.6 424.4 859.4 425.3 861.6 426.6 C863.8 427.9 866.3 429.3 868.5 431.1 C870.6 432.9 872.3 434.2 874.5 437.5 C876.7 440.7 879.2 446.7 881.4 450.6 C883.6 454.5 885.4 457.6 887.6 460.9 C889.8 464.1 892.4 467.3 894.5 470.2 C896.7 473.1 898.3 475.6 900.5 478.3 C902.6 480.9 905.2 483.4 907.4 486.1 C909.6 488.8 911.4 491.1 913.6 494.5 C915.8 498.0 918.3 503.2 920.5 506.7 C922.7 510.1 924.7 512.6 926.7 515.1 C928.6 517.6 930.1 519.3 932.3 521.6 C934.5 524.0 937.4 526.4 939.8 529.1 C942.1 531.9 944.1 535.8 946.3 538.1 C948.5 540.4 950.7 541.7 952.9 543.1 C955.0 544.6 957.3 545.7 959.4 546.9 C961.5 548.1 963.4 549.1 965.4 550.3 C967.4 551.4 969.4 553.1 971.6 554.0 C973.7 554.9 976.2 555.7 978.5 555.7 C980.8 555.7 983.2 554.7 985.4 554.0 C987.6 553.3 989.4 552.4 991.6 551.6 C993.8 550.7 996.2 549.7 998.5 548.9 C1000.8 548.2 1003.2 548.0 1005.4 547.3 C1007.6 546.5 1009.4 545.8 1011.6 544.4 C1013.7 543.1 1016.3 541.0 1018.5 539.4 C1020.6 537.8 1022.3 536.7 1024.5 535.1 C1026.6 533.5 1029.2 531.8 1031.4 530.0 C1033.6 528.3 1035.4 526.5 1037.6 524.8 C1039.7 523.2 1042.3 521.4 1044.5 520.1 C1046.6 518.9 1048.3 518.2 1050.5 517.3 C1052.6 516.5 1055.4 515.4 1057.6 514.9 C1059.7 514.4 1061.4 514.3 1063.5 514.1 C1065.7 514.0 1068.3 513.8 1070.5 514.0 C1072.6 514.1 1074.3 514.3 1076.5 514.9 C1078.6 515.5 1081.4 516.7 1083.6 517.7 C1085.7 518.7 1087.2 519.9 1089.4 521.1 C1091.5 522.2 1094.3 523.6 1096.5 524.4 C1098.6 525.3 1100.3 525.8 1102.4 526.3 C1104.6 526.8 1107.4 527.2 1109.6 527.6 C1111.7 528.0 1113.4 527.9 1115.5 528.5 C1117.7 529.2 1120.3 530.3 1122.5 531.4 C1124.6 532.4 1126.6 533.5 1128.6 534.7 C1130.7 536.0 1132.5 536.9 1134.6 538.8 C1136.8 540.8 1139.2 544.1 1141.5 546.5 C1143.8 549.0 1146.3 551.8 1148.4 553.5 C1150.6 555.2 1152.2 555.5 1154.4 556.8 C1156.6 558.2 1159.3 559.9 1161.5 561.5 C1163.7 563.1 1166.5 565.4 1167.5 566.2"/>
<ellipse cx="1168.3" cy="599" rx="13" ry="36.8" fill="none" stroke="#f23645" stroke-width="1.2"/>
<polyline fill="none" stroke="#000" stroke-width="1.4" stroke-linejoin="miter" points="1187.2,606.9 1200.5,585.3 1206.9,624.1 1213.6,606.5 1226.5,667.7"/>
<polyline fill="none" stroke="#000" stroke-width="1.4" points="1219.3,664.1 1226.5,667.7 1231.3,660.9"/>
<text x="51.0" y="121.0" font-size="26.4" fill="#000" font-weight="bold" text-anchor="start" textLength="188.0" lengthAdjust="spacingAndGlyphs">Gold Daily Chart</text>
<text x="291.4" y="384.6" font-size="17.2" fill="#ff0000" font-weight="normal" text-anchor="start" textLength="89.6" lengthAdjust="spacingAndGlyphs" stroke="#ff0000" stroke-width="0.3">21-day EMA</text>
<text x="891.1" y="372.8" font-size="17.6" fill="#0000ff" font-weight="normal" text-anchor="start" textLength="103.1" lengthAdjust="spacingAndGlyphs" stroke="#0000ff" stroke-width="0.4">200-day SMA</text>
<text x="957.3" y="665.7" font-size="14.8" fill="#07b72c" font-weight="normal" text-anchor="start" textLength="75.1" lengthAdjust="spacingAndGlyphs">July 2022 L</text>
<text x="1241.6" y="671.8" font-size="15.3" fill="#07b72c" font-weight="normal" text-anchor="start" textLength="43.8" lengthAdjust="spacingAndGlyphs">2021 L</text>
<text x="10.5" y="28.3" font-size="15.8" fill="#5d606b" font-weight="normal" text-anchor="start" textLength="11.5" lengthAdjust="spacingAndGlyphs">O</text>
<text x="24.9" y="28.3" font-size="15.8" fill="#131722" font-weight="normal" text-anchor="start" textLength="54.4" lengthAdjust="spacingAndGlyphs">1710.13</text>
<text x="87.2" y="28.3" font-size="15.8" fill="#5d606b" font-weight="normal" text-anchor="start" textLength="11.2" lengthAdjust="spacingAndGlyphs">H</text>
<text x="101.2" y="28.3" font-size="15.8" fill="#131722" font-weight="normal" text-anchor="start" textLength="54.7" lengthAdjust="spacingAndGlyphs">1726.80</text>
<text x="163.8" y="28.3" font-size="15.8" fill="#5d606b" font-weight="normal" text-anchor="start" textLength="8.2" lengthAdjust="spacingAndGlyphs">L</text>
<text x="175.0" y="28.3" font-size="15.8" fill="#131722" font-weight="normal" text-anchor="start" textLength="54.9" lengthAdjust="spacingAndGlyphs">1702.43</text>
<text x="238.2" y="28.3" font-size="15.8" fill="#5d606b" font-weight="normal" text-anchor="start" textLength="10.2" lengthAdjust="spacingAndGlyphs">C</text>
<text x="250.6" y="28.3" font-size="15.8" fill="#131722" font-weight="normal" text-anchor="start" textLength="54.2" lengthAdjust="spacingAndGlyphs">1704.71</text>
<text x="314.8" y="28.3" font-size="15.8" fill="#131722" font-weight="normal" text-anchor="start" textLength="37.4" lengthAdjust="spacingAndGlyphs">−5.42</text>
<text x="360.0" y="28.3" font-size="15.8" fill="#131722" font-weight="normal" text-anchor="start" textLength="59.7" lengthAdjust="spacingAndGlyphs">(−0.32%)</text>
<rect x="12.5" y="39.5" width="39" height="24.5" rx="3" fill="#fff" stroke="#d1d4dc" stroke-width="1"/>
<polyline points="20.7,49.6 25.5,54 30.3,49.6" fill="none" stroke="#131722" stroke-width="1.7" stroke-linecap="round" stroke-linejoin="round"/>
<text x="37.3" y="57.2" font-size="15" fill="#131722" font-weight="normal" text-anchor="start">3</text>
</g>
<rect x="3" y="707.8" width="1379" height="1.1" fill="#4e4f55"/>
<rect x="1294" y="3" width="1.1" height="742" fill="#4e4f55"/>
<g clip-path="url(#taxis)">
<text x="2.5" y="733.9" font-size="17.8" fill="#4a4a4d" font-weight="bold" text-anchor="start" textLength="37.9" lengthAdjust="spacingAndGlyphs">2022</text>
<text x="143.8" y="733.9" font-size="17.8" fill="#4a4a4d" font-weight="normal" text-anchor="start" textLength="27.8" lengthAdjust="spacingAndGlyphs">Feb</text>
<text x="274.3" y="733.9" font-size="17.8" fill="#4a4a4d" font-weight="normal" text-anchor="start" textLength="27.2" lengthAdjust="spacingAndGlyphs">Mar</text>
<text x="424.9" y="733.9" font-size="17.8" fill="#4a4a4d" font-weight="normal" text-anchor="start" textLength="26.0" lengthAdjust="spacingAndGlyphs">Apr</text>
<text x="559.4" y="733.9" font-size="17.8" fill="#4a4a4d" font-weight="normal" text-anchor="start" textLength="29.8" lengthAdjust="spacingAndGlyphs">May</text>
<text x="704.5" y="733.9" font-size="17.8" fill="#4a4a4d" font-weight="normal" text-anchor="start" textLength="27.0" lengthAdjust="spacingAndGlyphs">Jun</text>
<text x="850.6" y="733.9" font-size="17.8" fill="#4a4a4d" font-weight="normal" text-anchor="start" textLength="21.7" lengthAdjust="spacingAndGlyphs">Jul</text>
<text x="984.6" y="733.9" font-size="17.8" fill="#4a4a4d" font-weight="normal" text-anchor="start" textLength="27.5" lengthAdjust="spacingAndGlyphs">Aug</text>
<text x="1134.6" y="733.9" font-size="17.8" fill="#4a4a4d" font-weight="normal" text-anchor="start" textLength="27.2" lengthAdjust="spacingAndGlyphs">Sep</text>
<text x="1277.7" y="733.9" font-size="17.8" fill="#4a4a4d" font-weight="normal" text-anchor="start" textLength="26.0" lengthAdjust="spacingAndGlyphs">Oct</text>
</g>
<text x="1308.8" y="58.5" font-size="18.5" fill="#4a4a4d" font-weight="normal" text-anchor="start" textLength="60.5" lengthAdjust="spacingAndGlyphs">2080.00</text>
<text x="1308.8" y="118.4" font-size="18.5" fill="#4a4a4d" font-weight="normal" text-anchor="start" textLength="60.5" lengthAdjust="spacingAndGlyphs">2040.00</text>
<text x="1308.8" y="178.2" font-size="18.5" fill="#4a4a4d" font-weight="normal" text-anchor="start" textLength="60.5" lengthAdjust="spacingAndGlyphs">2000.00</text>
<text x="1308.8" y="238.0" font-size="18.5" fill="#4a4a4d" font-weight="normal" text-anchor="start" textLength="60.5" lengthAdjust="spacingAndGlyphs">1960.00</text>
<text x="1308.8" y="297.9" font-size="18.5" fill="#4a4a4d" font-weight="normal" text-anchor="start" textLength="60.5" lengthAdjust="spacingAndGlyphs">1920.00</text>
<text x="1308.8" y="357.7" font-size="18.5" fill="#4a4a4d" font-weight="normal" text-anchor="start" textLength="60.5" lengthAdjust="spacingAndGlyphs">1880.00</text>
<text x="1308.8" y="417.6" font-size="18.5" fill="#4a4a4d" font-weight="normal" text-anchor="start" textLength="60.5" lengthAdjust="spacingAndGlyphs">1840.00</text>
<text x="1308.8" y="537.2" font-size="18.5" fill="#4a4a4d" font-weight="normal" text-anchor="start" textLength="60.5" lengthAdjust="spacingAndGlyphs">1760.00</text>
<path d="M1294 310.0 H1376.4 Q1378.9 310.0 1378.9 312.5 V332.1 Q1378.9 334.6 1376.4 334.6 H1294 Z" fill="#07b72c"/>
<text x="1309.0" y="328.7" font-size="18.5" fill="#fff" font-weight="bold" text-anchor="start" textLength="60.2" lengthAdjust="spacingAndGlyphs">1900.00</text>
<path d="M1294 457.2 H1376.4 Q1378.9 457.2 1378.9 459.7 V479.7 Q1378.9 482.2 1376.4 482.2 H1294 Z" fill="#07b72c"/>
<text x="1309.0" y="476.1" font-size="18.5" fill="#fff" font-weight="bold" text-anchor="start" textLength="60.2" lengthAdjust="spacingAndGlyphs">1800.00</text>
<path d="M1294 482.2 H1376.4 Q1378.9 482.2 1378.9 484.7 V504.0 Q1378.9 506.5 1376.4 506.5 H1294 Z" fill="#f23645"/>
<text x="1309.0" y="500.8" font-size="18.5" fill="#fff" font-weight="bold" text-anchor="start" textLength="60.2" lengthAdjust="spacingAndGlyphs">1785.00</text>
<path d="M1294 552.5 H1376.4 Q1378.9 552.5 1378.9 555.0 V574.5 Q1378.9 577.0 1376.4 577.0 H1294 Z" fill="#f23645"/>
<text x="1309.0" y="571.1" font-size="18.5" fill="#fff" font-weight="bold" text-anchor="start" textLength="60.2" lengthAdjust="spacingAndGlyphs">1728.24</text>
<path d="M1294 577.0 H1376.4 Q1378.9 577.0 1378.9 579.5 V599.3 Q1378.9 601.8 1376.4 601.8 H1294 Z" fill="#f23645"/>
<text x="1309.0" y="595.8" font-size="18.5" fill="#fff" font-weight="bold" text-anchor="start" textLength="60.2" lengthAdjust="spacingAndGlyphs">1709.67</text>
<path d="M1294 601.8 H1376.4 Q1378.9 601.8 1378.9 604.3 V624.2 Q1378.9 626.7 1376.4 626.7 H1294 Z" fill="#000000"/>
<text x="1309.0" y="620.6" font-size="18.5" fill="#fff" font-weight="bold" text-anchor="start" textLength="60.2" lengthAdjust="spacingAndGlyphs">1704.71</text>
<path d="M1294 626.7 H1376.4 Q1378.9 626.7 1378.9 629.2 V648.5 Q1378.9 651.0 1376.4 651.0 H1294 Z" fill="#00bcd4"/>
<text x="1309.0" y="645.2" font-size="18.5" fill="#000" font-weight="normal" text-anchor="start" textLength="59.6" lengthAdjust="spacingAndGlyphs">1700.00</text>
<path d="M1294 651.0 H1376.4 Q1378.9 651.0 1378.9 653.5 V673.3 Q1378.9 675.8 1376.4 675.8 H1294 Z" fill="#07b72c"/>
<text x="1309.0" y="669.8" font-size="18.5" fill="#fff" font-weight="bold" text-anchor="start" textLength="60.2" lengthAdjust="spacingAndGlyphs">1680.95</text>
<path d="M1294 675.8 H1376.4 Q1378.9 675.8 1378.9 678.3 V698.0 Q1378.9 700.5 1376.4 700.5 H1294 Z" fill="#07b72c"/>
<text x="1309.0" y="694.5" font-size="18.5" fill="#fff" font-weight="bold" text-anchor="start" textLength="60.2" lengthAdjust="spacingAndGlyphs">1676.90</text>
<circle cx="1338.6" cy="727.9" r="5.9" fill="none" stroke="#131722" stroke-width="1.2"/>
<line x1="1344.90" y1="727.90" x2="1347.80" y2="727.90" stroke="#131722" stroke-width="1.3"/>
<line x1="1343.05" y1="732.35" x2="1345.11" y2="734.41" stroke="#131722" stroke-width="1.3"/>
<line x1="1338.60" y1="734.20" x2="1338.60" y2="737.10" stroke="#131722" stroke-width="1.3"/>
<line x1="1334.15" y1="732.35" x2="1332.09" y2="734.41" stroke="#131722" stroke-width="1.3"/>
<line x1="1332.30" y1="727.90" x2="1329.40" y2="727.90" stroke="#131722" stroke-width="1.3"/>
<line x1="1334.15" y1="723.45" x2="1332.09" y2="721.39" stroke="#131722" stroke-width="1.3"/>
<line x1="1338.60" y1="721.60" x2="1338.60" y2="718.70" stroke="#131722" stroke-width="1.3"/>
<line x1="1343.05" y1="723.45" x2="1345.11" y2="721.39" stroke="#131722" stroke-width="1.3"/>
</svg></body></html>
